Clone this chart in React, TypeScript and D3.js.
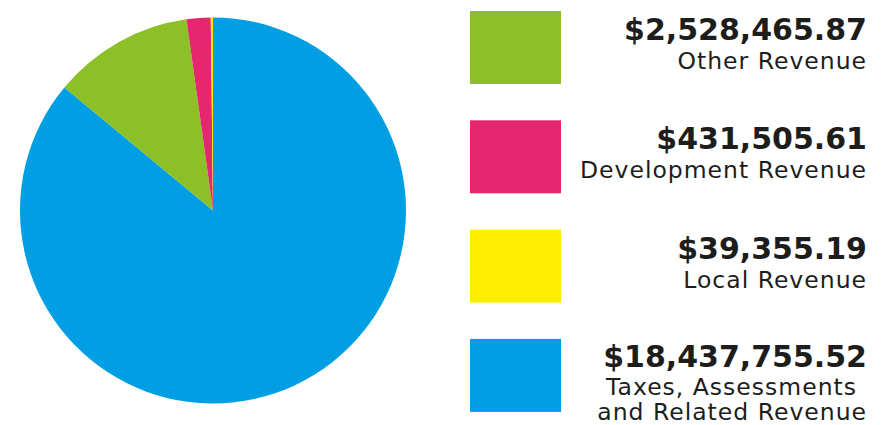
import React, { useEffect, useRef } from 'react';
import * as d3 from 'd3';

// legend order (top to bottom)
const categories = ['Other Revenue', 'Development Revenue', 'Local Revenue', 'Taxes, Assessments|and Related Revenue'];
const values = [2528465.87, 431505.61, 39355.19, 18437755.52];
const colors = ['#8dc026', '#e6266f', '#ffed00', '#009fe3'];
// pie goes clockwise from 12 o'clock in this order
const pieOrder = [3, 0, 1, 2];

const App: React.FC = () => {
    const ref = useRef<SVGSVGElement>(null);

    useEffect(() => {
        const width = 895;
        const height = 425;
        const svg = d3.select(ref.current).attr('width', width).attr('height', height);
        svg.selectAll('*').remove();

        const cx = 213;
        const cy = 210.5;
        const radius = 193;

        const pie = d3
            .pie<number>()
            .sort(null)
            .value((i) => values[i]);
        const arc = d3.arc<d3.PieArcDatum<number>>().innerRadius(0).outerRadius(radius);

        svg.append('g')
            .attr('transform', `translate(${cx},${cy})`)
            .selectAll('path')
            .data(pie(pieOrder))
            .enter()
            .append('path')
            .attr('d', arc)
            .attr('fill', (d) => colors[d.data]);

        const fmt = d3.format('$,.2f');
        const rowY = d3.scaleLinear().domain([0, 1]).range([11, 120.3]);
        const textRight = 867;

        categories.forEach((cat, i) => {
            const lines = cat.split('|');
            const multi = lines.length > 1;
            const g = svg.append('g').attr('transform', `translate(0,${rowY(i)})`);
            g.append('rect')
                .attr('x', 470)
                .attr('y', 0)
                .attr('width', 91)
                .attr('height', 73)
                .attr('fill', colors[i]);
            g.append('text')
                .attr('x', textRight)
                .attr('y', multi ? 28 : 29)
                .attr('text-anchor', 'end')
                .style('font-family', '"DejaVu Sans", sans-serif')
                .style('font-weight', 'bold')
                .style('font-size', '30px')
                .attr('fill', '#1d1d1b')
                .text(fmt(values[i]));
            lines.forEach((line, j) => {
                g.append('text')
                    .attr('x', multi && j === 0 ? textRight - 10 : textRight)
                    .attr('y', (multi ? 56 : 58) + j * 25.5)
                    .attr('text-anchor', 'end')
                    .style('font-family', '"DejaVu Sans", sans-serif')
                    .style('font-size', '23.5px')
                    .style('letter-spacing', '1px')
                    .attr('fill', '#1d1d1b')
                    .text(line);
            });
        });
    }, []);

    return <svg ref={ref} style={{ position: 'absolute', left: 0, top: 0 }}></svg>;
};

export default App;
